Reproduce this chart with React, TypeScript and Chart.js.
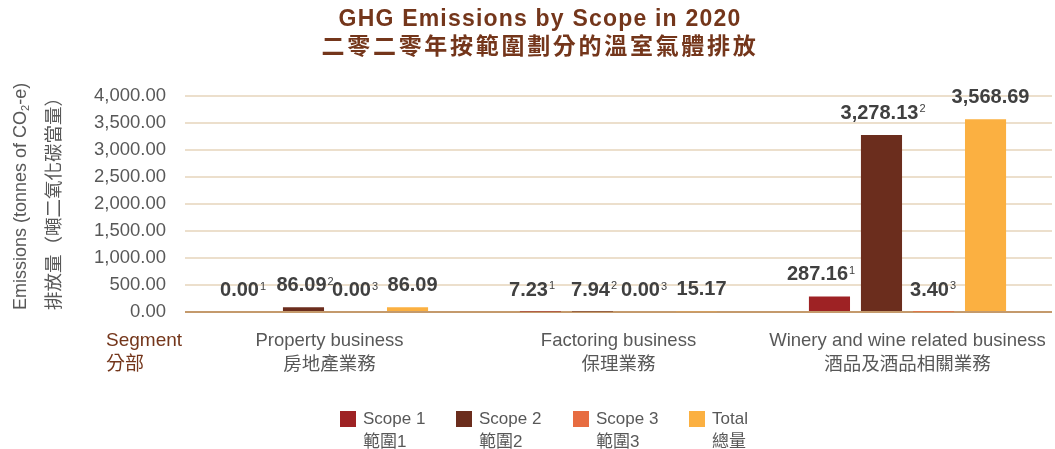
import React, { useEffect, useRef } from 'react';
import Chart from 'chart.js/auto';

const categories = [
  ['Property business', '房地產業務'],
  ['Factoring business', '保理業務'],
  ['Winery and wine related business', '酒品及酒品相關業務'],
];
const scope1 = [0.0, 7.23, 287.16];
const scope2 = [86.09, 7.94, 3278.13];
const scope3 = [0.0, 0.0, 3.4];
const total = [86.09, 15.17, 3568.69];
const seriesNames = [
  ['Scope 1', '範圍1'],
  ['Scope 2', '範圍2'],
  ['Scope 3', '範圍3'],
  ['Total', '總量'],
];
const superscripts = ['1', '2', '3', ''];
const titleLines = ['GHG Emissions by Scope in 2020', '二零二零年按範圍劃分的溫室氣體排放'];
const yTitleLines = ['Emissions (tonnes of CO|2|-e)', '排放量（噸二氧化碳當量）'];
const segmentLines = ['Segment', '分部'];
const yMax = 4000;
const yStep = 500;

const seriesData = [scope1, scope2, scope3, total];
const colors = ['#9e2224', '#6b2d1d', '#e76c41', '#fbb041'];
const labelDx = [-12, -2, -4, 5];
const FONT = '"Liberation Sans", "Noto Sans CJK TC", sans-serif';
const BROWN = '#74361b';
const GREY = '#585858';

const fmt = (v: number) =>
  Number(v).toLocaleString('en-US', { minimumFractionDigits: 2, maximumFractionDigits: 2 });

const decorPlugin = {
  id: 'decor',
  afterDatasetsDraw(chart: any) {
    const ctx = chart.ctx;
    ctx.save();
    chart.data.datasets.forEach((ds: any, i: number) => {
      const meta = chart.getDatasetMeta(i);
      meta.data.forEach((bar: any, j: number) => {
        const val = ds.data[j];
        const main = fmt(val);
        const sup = superscripts[i];
        const cy = bar.y - 23;
        ctx.font = `bold 20px ${FONT}`;
        const w = ctx.measureText(main).width;
        const x0 = bar.x + labelDx[i] - w / 2;
        ctx.fillStyle = '#404040';
        ctx.textAlign = 'left';
        ctx.textBaseline = 'alphabetic';
        ctx.fillText(main, x0, cy + 7);
        if (sup) {
          ctx.font = `11px ${FONT}`;
          ctx.fillText(sup, x0 + w + 1, cy + 0.5);
        }
      });
    });
    ctx.restore();
  },
  afterDraw(chart: any) {
    const ctx = chart.ctx;
    ctx.save();
    // Title
    ctx.fillStyle = BROWN;
    ctx.textAlign = 'center';
    ctx.textBaseline = 'middle';
    ctx.font = `bold 23px ${FONT}`;
    (ctx as any).letterSpacing = '1.2px';
    ctx.fillText(titleLines[0], 540, 20);
    ctx.font = `bold 23px "Noto Sans CJK TC", ${FONT}`;
    (ctx as any).letterSpacing = '2.7px';
    ctx.fillText(titleLines[1], 540, 45);
    (ctx as any).letterSpacing = '0px';

    // Y axis title (rotated)
    ctx.fillStyle = GREY;
    ctx.textAlign = 'left';
    ctx.textBaseline = 'middle';
    const parts = yTitleLines[0].split('|');
    ctx.save();
    ctx.translate(21, 310);
    ctx.rotate(-Math.PI / 2);
    ctx.font = `18px ${FONT}`;
    let x = 0;
    ctx.fillText(parts[0], x, 0);
    x += ctx.measureText(parts[0]).width;
    ctx.font = `11px ${FONT}`;
    ctx.fillText(parts[1], x, 5);
    x += ctx.measureText(parts[1]).width;
    ctx.font = `18px ${FONT}`;
    ctx.fillText(parts[2], x, 0);
    ctx.restore();
    ctx.save();
    ctx.translate(53, 310);
    ctx.rotate(-Math.PI / 2);
    ctx.font = `18.5px "Noto Sans CJK TC", ${FONT}`;
    ctx.fillText(yTitleLines[1], 0, 0);
    ctx.restore();

    // Segment label
    ctx.fillStyle = BROWN;
    ctx.font = `19px ${FONT}`;
    ctx.fillText(segmentLines[0], 106, 341);
    ctx.fillText(segmentLines[1], 106, 365);

    // Legend
    const legendX = [340, 456, 573, 689];
    seriesNames.forEach((n, i) => {
      const bx = legendX[i];
      ctx.fillStyle = colors[i];
      ctx.fillRect(bx, 411, 16, 16);
      ctx.fillStyle = GREY;
      ctx.font = `17px ${FONT}`;
      ctx.fillText(n[0], bx + 23, 419);
      ctx.fillText(n[1], bx + 23, 442);
    });
    ctx.restore();
  },
};

export default function App() {
  const ref = useRef<HTMLCanvasElement>(null);
  useEffect(() => {
    const canvas = ref.current!;
    const chart = new Chart(canvas, {
      type: 'bar',
      data: {
        labels: categories,
        datasets: seriesNames.map((n, i) => ({
          label: n[0],
          data: seriesData[i],
          backgroundColor: colors[i],
          borderWidth: 0,
          categoryPercentage: 0.72,
          barPercentage: 0.79,
        })),
      },
      options: {
        animation: false,
        responsive: false,
        maintainAspectRatio: false,
        devicePixelRatio: 1,
        layout: { autoPadding: false, padding: { top: 96, right: 3, bottom: 77, left: 0 } },
        plugins: {
          legend: { display: false },
          title: { display: false },
          tooltip: { enabled: false },
        },
        scales: {
          x: {
            grid: { display: false, drawTicks: false },
            border: { display: false },
            ticks: {
              color: GREY,
              font: { family: FONT, size: 18.5, lineHeight: 1.3 },
              padding: 17,
              maxRotation: 0,
              minRotation: 0,
              autoSkip: false,
            },
            afterFit: (s: any) => {
              s.height = 60;
              s.paddingLeft = 0;
              s.paddingRight = 0;
            },
          },
          y: {
            min: 0,
            max: yMax,
            ticks: {
              stepSize: yStep,
              color: GREY,
              font: { family: FONT, size: 18.5 },
              padding: 19,
              callback: (v: any) => fmt(v),
            },
            grid: {
              color: (c: any) => (c.tick && c.tick.value === 0 ? '#c49a6c' : '#ecdfcc'),
              lineWidth: 2,
              drawTicks: false,
            },
            border: { display: false },
            afterFit: (s: any) => {
              s.width = 185;
              s.paddingTop = 0;
              s.paddingBottom = 0;
            },
          },
        },
      } as any,
      plugins: [decorPlugin],
    });
    return () => chart.destroy();
  }, []);
  return (
    <div style={{ position: 'fixed', left: 0, top: 0, width: 1055, height: 449, background: '#fff', overflow: 'hidden' }}>
      <canvas ref={ref} width={1055} height={449} style={{ display: 'block', width: 1055, height: 449 }} />
    </div>
  );
}
